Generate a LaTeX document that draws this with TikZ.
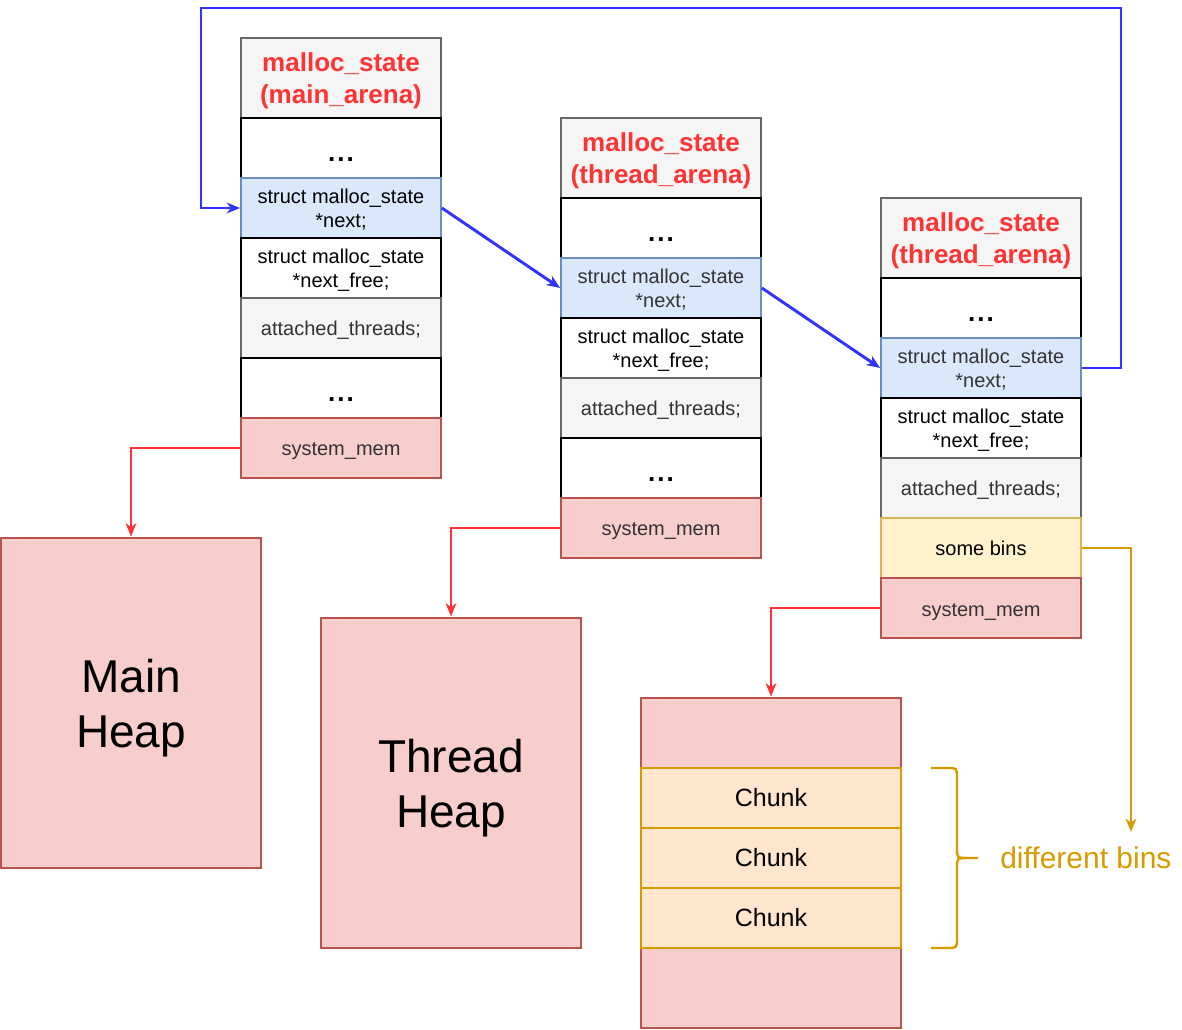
\documentclass[tikz,border=0pt]{standalone}
\usepackage{fontspec}
\setmainfont{Liberation Sans}
\usetikzlibrary{arrows.meta}
\definecolor{hdrfill}{HTML}{F5F5F5}
\definecolor{hdrdraw}{HTML}{666666}
\definecolor{hdrtext}{HTML}{FF3333}
\definecolor{txtgray}{HTML}{333333}
\definecolor{bluefill}{HTML}{DAE8FC}
\definecolor{bluedraw}{HTML}{6C8EBF}
\definecolor{memfill}{HTML}{F8CECC}
\definecolor{memdraw}{HTML}{B85450}
\definecolor{binsfill}{HTML}{FFF2CC}
\definecolor{binsdraw}{HTML}{D6B656}
\definecolor{chunkfill}{HTML}{FFE6CC}
\definecolor{chunkdraw}{HTML}{D79B00}
\definecolor{arrblue}{HTML}{3333FF}
\definecolor{arrred}{HTML}{FF3333}
\newcommand{\mydots}{.\kern1.5pt.\kern1.5pt.}
\begin{document}
\begin{tikzpicture}[x=0.75pt,y=-0.75pt,
  cell/.style={draw, minimum width=150pt, minimum height=45pt, inner sep=0pt, align=center,
    font=\fontsize{15}{18}\selectfont, line width=1.3pt, text height=13.5pt, text depth=1.5pt},
  two/.style={text height=30pt, text depth=0pt},
  hdr/.style={cell, minimum height=60pt, fill=hdrfill, draw=hdrdraw, text=hdrtext,
    font=\fontsize{19.5}{24}\selectfont\bfseries, text height=38.7pt, text depth=0pt},
  plain/.style={cell, fill=white, draw=black},
  dots/.style={plain, font=\fontsize{19.5}{24}\selectfont\bfseries, text height=20pt, text depth=0pt},
  blu/.style={cell, fill=bluefill, draw=bluedraw},
  gry/.style={cell, fill=hdrfill, draw=hdrdraw, text=txtgray},
  mem/.style={cell, fill=memfill, draw=memdraw, text=txtgray},
  bins/.style={cell, fill=binsfill, draw=binsdraw},
  heap/.style={draw=memdraw, fill=memfill, line width=2.2pt, minimum width=195pt,
    minimum height=247.5pt, inner sep=0pt, align=center, font=\fontsize{34.5}{41}\selectfont,
    text height=66pt, text depth=0pt},
  chunk/.style={draw=chunkdraw, fill=chunkfill, line width=2pt, minimum width=195pt,
    minimum height=45pt, inner sep=0pt, font=\fontsize{18.75}{22}\selectfont},
  tip/.style={-{Stealth[length=10pt,width=8pt,inset=3pt]}},
  barrow/.style={draw=arrblue, line width=2.2pt, tip},
  rarrow/.style={draw=arrred, line width=2.2pt, tip},
  oarrow/.style={draw=chunkdraw, line width=2.2pt, tip}
]
\useasboundingbox (0,0) rectangle (1182,1030);

% Column 1 (main arena)
\node[hdr]   (ah)  at (341,78)  {malloc\_state\\(main\_arena)};
\node[dots]  (ad1) at (341,148) {\mydots};
\node[blu,two]   (an)  at (341,208) {struct malloc\_state\\*next;};
\node[plain,two] (af)  at (341,268) {struct malloc\_state\\*next\_free;};
\node[gry]   (at)  at (341,328) {attached\_threads;};
\node[dots]  (ad2) at (341,388) {\mydots};
\node[mem]   (am)  at (341,448) {system\_mem};

% Column 2 (thread arena)
\node[hdr]   (bh)  at (661,158) {malloc\_state\\(thread\_arena)};
\node[dots]  (bd1) at (661,228) {\mydots};
\node[blu,two, text=txtgray] (bn) at (661,288) {struct malloc\_state\\*next;};
\node[plain,two] (bf)  at (661,348) {struct malloc\_state\\*next\_free;};
\node[gry]   (bt)  at (661,408) {attached\_threads;};
\node[dots]  (bd2) at (661,468) {\mydots};
\node[mem]   (bm)  at (661,528) {system\_mem};

% Column 3 (thread arena)
\node[hdr]   (ch)  at (981,238) {malloc\_state\\(thread\_arena)};
\node[dots]  (cd1) at (981,308) {\mydots};
\node[blu,two, text=txtgray] (cn) at (981,368) {struct malloc\_state\\*next;};
\node[plain,two] (cf)  at (981,428) {struct malloc\_state\\*next\_free;};
\node[gry]   (ct)  at (981,488) {attached\_threads;};
\node[bins]  (cb)  at (981,548) {some bins};
\node[mem]   (cm)  at (981,608) {system\_mem};

% Heaps
\node[heap] (mainheap)   at (131,703) {Main\\Heap};
\node[heap] (threadheap) at (451,783) {Thread\\Heap};
\node[heap] (chunkheap)  at (771,863) {};
\node[chunk] (k1) at (771,798) {Chunk};
\node[chunk] (k2) at (771,858) {Chunk};
\node[chunk] (k3) at (771,918) {Chunk};

% Brace and label
\draw[draw=chunkdraw, line width=1.8pt]
  (931,768) -- (947,768) .. controls (957,768) .. (957,778) -- (957,848)
  .. controls (957,858) .. (967,858) -- (978,858);
\draw[draw=chunkdraw, line width=1.8pt]
  (931,948) -- (947,948) .. controls (957,948) .. (957,938) -- (957,868)
  .. controls (957,858) .. (967,858);
\node[anchor=west, inner sep=0pt, text=chunkdraw, font=\fontsize{22.5}{27}\selectfont]
  (diffbins) at (1000,858) {different bins};

% Blue next pointers
\draw[barrow] (an.east) -- (bn.west);
\draw[barrow] (bn.east) -- (cn.west);
\coordinate (loopTR) at (1121,8);
\coordinate (loopTL) at (201,8);
\draw[barrow] (cn.east) -| (loopTR) -- (loopTL) |- (an.west);

% Red system_mem arrows
\draw[rarrow] (am.west) -| (mainheap.north);
\draw[rarrow] (bm.west) -| (threadheap.north);
\draw[rarrow] (cm.west) -| (chunkheap.north);

% Orange bins arrow
\coordinate (binsend) at (1131,832);
\draw[oarrow] (cb.east) -| (binsend);
\end{tikzpicture}
\end{document}
